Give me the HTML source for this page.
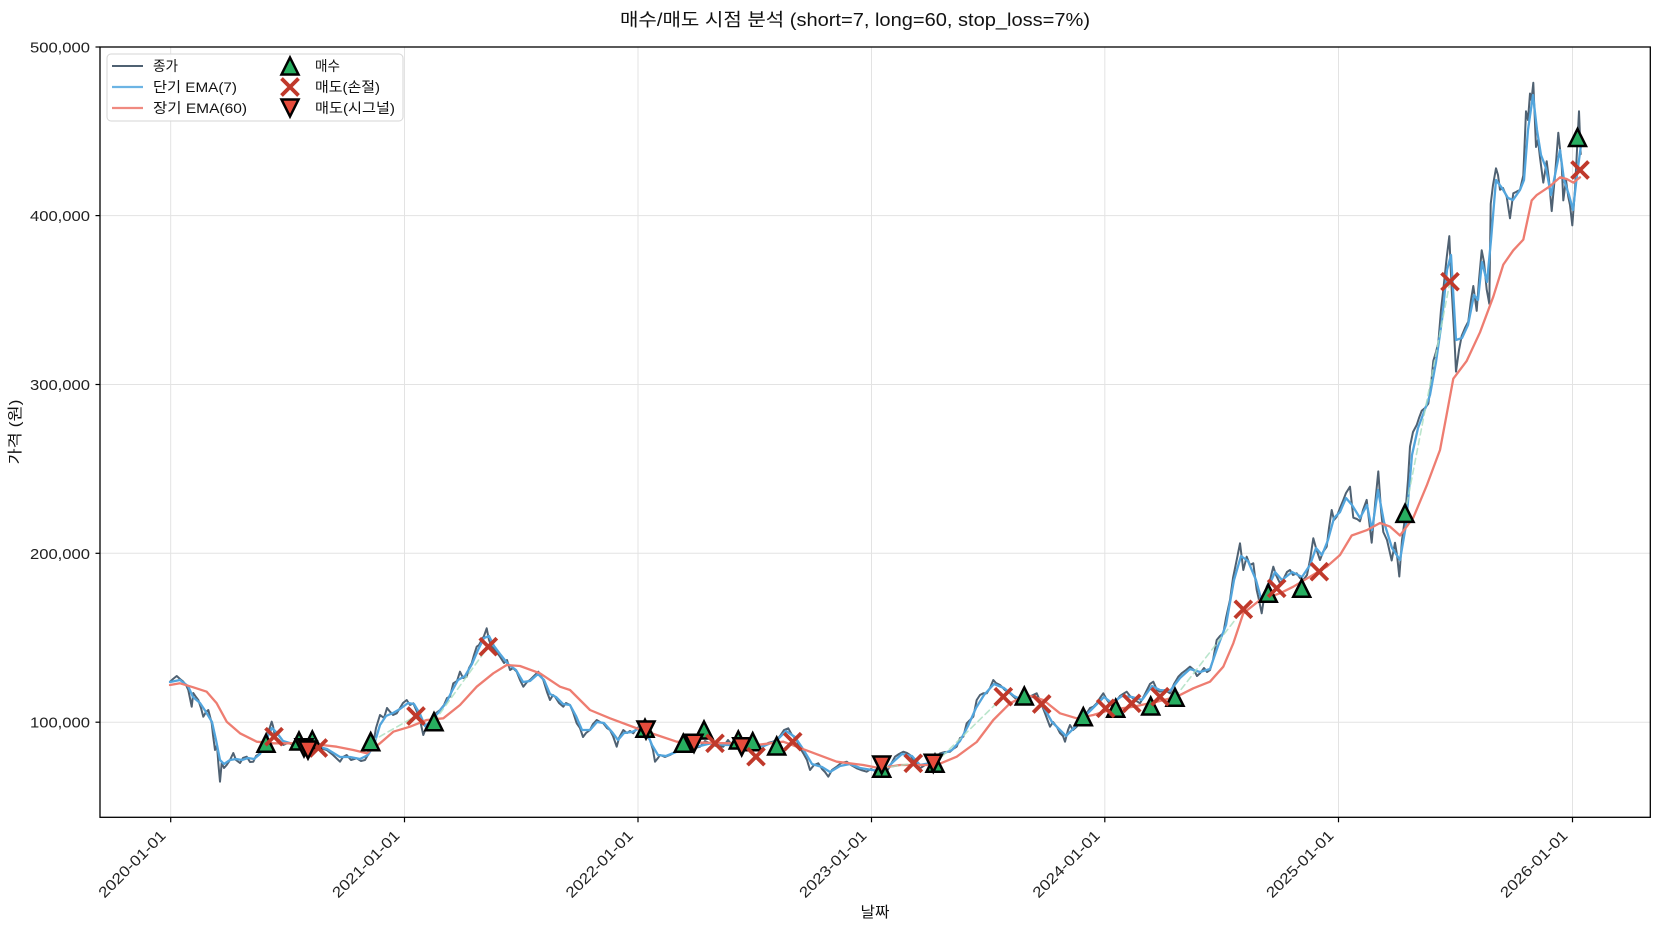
<!DOCTYPE html>
<html><head><meta charset="utf-8"><style>
html,body{margin:0;padding:0;background:#fff;}
svg{display:block;font-family:"Liberation Sans","Noto Sans CJK KR",sans-serif;}
</style></head><body>
<svg width="1660" height="930" viewBox="0 0 1660 930" xmlns="http://www.w3.org/2000/svg">
<defs>
<clipPath id="pc"><rect x="100" y="47" width="1550.3" height="770.3"/></clipPath>
<g id="up"><path d="M0,-8.5 L8.5,8.5 L-8.5,8.5 Z" fill="#27ae60" stroke="#000" stroke-width="2.5" stroke-linejoin="miter"/></g>
<g id="dn"><path d="M0,8.5 L8.5,-8.5 L-8.5,-8.5 Z" fill="#e74c3c" stroke="#000" stroke-width="2.5" stroke-linejoin="miter"/></g>
<g id="xx"><path d="M-8.5,-8.5 L8.5,8.5 M-8.5,8.5 L8.5,-8.5" stroke="#c0392b" stroke-width="3.8" fill="none"/></g>
</defs>
<rect width="1660" height="930" fill="#fff"/>
<!-- title -->
<text x="855" y="26" font-size="18" text-anchor="middle" textLength="470" lengthAdjust="spacingAndGlyphs" fill="#111">매수/매도 시점 분석 (short=7, long=60, stop_loss=7%)</text>
<!-- grid -->
<g stroke="#e3e3e3" stroke-width="1">
<line x1="170.7" y1="47" x2="170.7" y2="817"/>
<line x1="404.5" y1="47" x2="404.5" y2="817"/>
<line x1="638" y1="47" x2="638" y2="817"/>
<line x1="871.5" y1="47" x2="871.5" y2="817"/>
<line x1="1104.8" y1="47" x2="1104.8" y2="817"/>
<line x1="1338.5" y1="47" x2="1338.5" y2="817"/>
<line x1="1572.5" y1="47" x2="1572.5" y2="817"/>
<line x1="100" y1="215.6" x2="1650" y2="215.6"/>
<line x1="100" y1="384.5" x2="1650" y2="384.5"/>
<line x1="100" y1="553.3" x2="1650" y2="553.3"/>
<line x1="100" y1="722.2" x2="1650" y2="722.2"/>
</g>
<g clip-path="url(#pc)" fill="none" stroke-linejoin="round" stroke-linecap="round">
<!-- close -->
<polyline stroke="#4f6172" stroke-width="2" points="170,681.7 173,679 176.7,676 180,679 183.3,681.7 186,685 188.3,690 191.7,706.7 193.3,693 196,697 198.3,700 201,708 203.3,716.7 206,712 208.3,710 211.7,723 213,735 215,750 217,745 218.3,763 220,781.7 221.7,763 224,768 226.7,765 230,760 233.3,753 236,760 240,763 243,758 246.7,756.7 250,762 253.3,761.7 256,756 260,753.3 263,748 266.7,733.3 269,730 271.7,721.7 273,726 275,736.7 279,740 283.3,745 288,743 293.3,745 298,744 303.3,745 308,747 313.3,746.7 320,748 326.7,750 333,755 340,761.7 343,757 346.7,755 351,760 356.7,758.3 361,761 365,760 369,753 373.3,743.3 376,728 380,715 384,718 387,708 390,711.7 393,715 396.7,713.3 400,708 403,703 406.7,700 410,705 413.3,703.3 417,712 420,720 423.3,735 426,728 430,721.7 433,716 436,713 440,710 444,705 447,698 450,696.7 453.3,683.3 457,681 460,671.7 463,678 466.7,676.7 469,668 471.7,663.3 474,655 476.7,646.7 479,645 481.7,640 484,636 486.7,628.3 489,640 491.7,646.7 495,650 500,656.7 504,663 507,660 510,670 513,668 516.7,671.7 520,680 523.3,686.7 527,682 530,680 534,676 538.3,671.7 541,676 543.3,680 547,692 550,700 553,695 555,696.7 559,703 563.3,706.7 566,703 570,705 573,712 576.7,723.3 580,728 583,737 586,733 590,730 593,724 596.7,720 600,722 603.3,723.3 607,728 610,730 613,736 616.7,746.7 619,738 623.3,730 627,733 630,731 633.3,733.3 637,728 640,726.7 643,730 646,735 650,740 653,750 655,761.7 658,758 660,755 665,757 670,755 675,752 680,746.7 685,748 690,745 695,748 700,746.7 705,741 710,743.3 716,746 723.3,746.7 728,740 732,745 736.7,743.3 741,748 745,744 750,746.7 755,750 758,745 763.3,746.7 768,743 772,742 776.7,740 780,736 784,730 788.3,728.3 792,735 796.7,740 800,748 803.3,753.3 807,760 810,770 814,765 818.3,763.3 822,769 825,772 828.3,776.7 832,770 836.7,766.7 841,763 846.7,761.7 851,765 856.7,768.3 861,770 866.7,771.7 871,769 876.7,771.7 881,773 886.7,771.7 891,764 895,756.7 899,754 903.3,751.7 907,753 910,755 915,762 920,768.3 925,765 930,763.3 935,758 940,753.3 945,752 950,751.7 953,749 956.7,746.7 960,738 963.3,736.7 966.7,723.3 970,720 973.3,716.7 976.7,700 980,695 983.3,693.3 986.7,693.3 990,688 993.3,680 996,683 1000,685 1005,690 1010,693.3 1015,698 1020,703.3 1023,700 1026.7,700 1031,696 1036.7,693.3 1041,703 1045,713.3 1050,726.7 1053,722 1056.7,726.7 1060,733 1063,736 1065,741.7 1068,730 1070,725 1073,730 1076.7,726.7 1080,722 1083,718 1086.7,713.3 1090,708 1093.3,706.7 1097,703 1100,698 1103.3,693.3 1107,700 1110,704 1113.3,706.7 1117,700 1120,696 1123,694 1126.7,691.7 1130,696 1135,700 1140,703.3 1144,696 1147,690 1150,684 1153.3,681.7 1157,690 1160,691.7 1165,690 1170,693.3 1174,684 1178.3,676.7 1182,673 1186,670 1190,666.7 1194,670 1197,676 1200,673.3 1204,668 1207,672 1210,670 1213,660 1216.7,640 1220,636 1223.3,633.3 1226,618 1230,600 1233,578 1236.7,560 1240,543.3 1243.3,570 1246.7,556.7 1250,565 1253.3,563.3 1256.7,590 1259,600 1261.7,613.3 1264,598 1266.7,586.7 1270,580 1273.3,566.7 1276,575 1280,583.3 1284,578 1287,572 1290,570 1293,575 1296.7,573.3 1300,578 1303.3,580 1307,575 1310,560 1313.3,538.3 1316,548 1320,560 1323,552 1326.7,546.7 1329,528 1331.7,510 1334,520 1336.7,516.7 1340,508 1343.3,500 1346,493 1350,486.7 1353.3,517.7 1357,519 1360,521.3 1363,510 1366.7,499.9 1369,520 1371.7,542.7 1375,505 1378.3,471.4 1381,510 1383.3,532 1387,540 1391.7,560.5 1395,542.7 1397,555 1399.3,576.5 1402,540 1405,517.7 1408,480 1410,446.4 1413,432 1416.7,425 1419,418 1421.7,410.8 1425,408 1428.3,403.6 1431,385 1433.3,360.9 1436,352 1438.3,343 1441,310 1443.3,289.6 1446.7,257.5 1449.3,236.1 1451.7,289.6 1454,330 1456,371.6 1459,350 1461.7,335.9 1465,328 1468.3,321.6 1471,300 1473.3,286 1476.7,310.9 1479,280 1481.7,250.3 1484,262 1486.7,289.6 1489.3,303.8 1490.7,204 1493,185 1496,168.3 1498,175 1500,189.7 1503,188 1506.7,196.9 1510,218.3 1513.3,193.3 1516,192 1520,189.7 1523.3,175.5 1526,111.3 1528,120 1530,93.5 1531.5,100 1533.3,82.8 1536,147 1538,140 1540,157.6 1543.3,182.6 1546.7,161.2 1549,180 1551.7,211.1 1555,175.5 1558.3,132.7 1561.7,164.8 1563.3,200.4 1566,180 1568.3,196.9 1570,205 1572.3,225.4 1575,189.7 1577,150 1579,111.3 1580.7,154.1"/>
<!-- short EMA -->
<polyline stroke="#52a5dd" stroke-width="2.3" points="170,682 180,680 188,686 193,697 200,703 206,712 212,722 216,740 220,760 224,764 230,760 236,759 242,760 248,758 254,759 260,754 266,740 272,728 277,733 283,741 293,744 305,745 315,746 327,749 340,757 350,757 360,759 368,755 374,745 380,725 386,716 393,713 400,709 408,703 414,704 420,714 425,726 430,722 438,713 446,703 452,691 458,680 465,676 472,664 478,650 484,638 489,636 494,646 500,654 508,664 516,670 523,682 530,681 538,674 544,680 550,694 556,697 563,704 570,705 576,716 582,730 590,730 597,722 604,723 612,732 618,740 624,733 632,732 640,728 647,733 652,745 658,755 666,756 676,752 686,748 700,746 712,743 725,745 740,745 752,746 764,746 776,741 786,731 795,737 803,749 812,764 822,767 830,772 840,766 850,764 860,768 872,770 884,771 893,762 902,754 912,756 920,765 930,763 940,755 952,750 960,741 968,726 976,708 984,695 994,684 1004,688 1014,696 1024,701 1034,696 1044,708 1052,722 1060,730 1066,736 1074,728 1084,717 1094,707 1104,697 1112,703 1122,696 1132,697 1142,700 1152,686 1160,690 1170,691 1180,678 1190,669 1200,672 1210,669 1218,646 1226,625 1234,580 1241,556 1248,561 1256,580 1262,602 1268,588 1275,572 1282,580 1292,572 1302,577 1310,565 1316,548 1322,555 1328,540 1334,518 1340,512 1346,498 1352,505 1360,518 1367,505 1372,530 1378,490 1384,522 1392,548 1400,560 1406,525 1412,455 1418,428 1424,412 1430,395 1436,362 1442,320 1447,270 1451,255 1456,340 1462,338 1468,325 1474,295 1478,300 1482,262 1487,282 1491,240 1496,180 1502,188 1508,198 1513,200 1520,190 1524,180 1528,130 1533,95 1537,130 1541,155 1546,168 1551,195 1556,170 1560,150 1564,180 1569,195 1573,210 1577,175 1581,145"/>
<!-- long EMA -->
<polyline stroke="#ee7d71" stroke-width="2.3" points="170,685 180,683.3 193.3,687.3 206.7,691.7 216.7,703.3 226.7,721.7 240,733.3 256.7,741.7 273.3,743.3 293.3,743.3 313.3,744 336.7,746.7 353.3,750 366.7,753.3 380,743.3 393.3,731.7 410,726.7 426.7,720 443.3,718.3 460,705 476.7,686.7 493.3,673.3 506.7,665 520,666 540,673.3 560,686.7 570,690 590,710 610,718.3 636.7,728.3 656.7,735 676.7,741.7 703.3,742.7 730,743.3 756.7,745 783.3,741.7 810,751.7 836.7,761.7 863.3,765 880,768.3 900,765 920,765 936.7,765 956.7,756.7 976.7,742 993.3,720 1010,703.3 1026.7,695 1043.3,700 1060,713.3 1076.7,718.3 1093.3,715 1110,710 1133.3,706.7 1156.7,701.7 1176.7,696.7 1193.3,688.3 1210,681.7 1223.3,666.7 1233.3,643.3 1243.3,613.3 1260,600 1280,593.3 1293.3,586.7 1310,576.7 1326.7,566.7 1340,555 1351.7,535.5 1366.7,530.2 1380,523 1390,526.6 1400,535.5 1413.3,517.7 1426.7,485.6 1440,450 1446.7,414.3 1453.3,378.7 1466.7,360.9 1480,332.3 1493.3,296.7 1503.3,264.6 1513.3,250.3 1523.3,239.6 1531.7,200.4 1536.7,195.1 1550,186.2 1560,177.3 1566.7,179 1573.3,182.6 1580,177.3"/>
<!-- holding dashed lines -->
<g stroke="#a9dfbf" stroke-width="1.6" stroke-dasharray="6,4" opacity="0.8">
<line x1="370.7" y1="741.7" x2="416" y2="716"/>
<line x1="434" y1="721.7" x2="488.3" y2="646.7"/>
<line x1="881.7" y1="768.3" x2="913.3" y2="763.3"/>
<line x1="935" y1="763.3" x2="1003.3" y2="696.7"/>
<line x1="1175" y1="697.3" x2="1243.3" y2="609.3"/>
<line x1="1405" y1="513.4" x2="1450" y2="281.7"/>
</g>
</g>
<!-- markers: buys -->
<use href="#up" x="266" y="743.3"/>
<use href="#up" x="299" y="741"/>
<use href="#up" x="312.3" y="740"/>
<use href="#up" x="370.7" y="741.7"/>
<use href="#up" x="434" y="721.7"/>
<use href="#up" x="645" y="728.3"/>
<use href="#up" x="683.3" y="743.3"/>
<use href="#up" x="704" y="730"/>
<use href="#up" x="738.3" y="740"/>
<use href="#up" x="752.7" y="741.7"/>
<use href="#up" x="776.7" y="746"/>
<use href="#up" x="881.7" y="768.3"/>
<use href="#up" x="935" y="763.3"/>
<use href="#up" x="1024.3" y="696"/>
<use href="#up" x="1083.3" y="716.7"/>
<use href="#up" x="1115.7" y="708.3"/>
<use href="#up" x="1150.7" y="706"/>
<use href="#up" x="1175" y="697.3"/>
<use href="#up" x="1268.3" y="593.3"/>
<use href="#up" x="1301.7" y="588.3"/>
<use href="#up" x="1405" y="513.4"/>
<use href="#up" x="1577.5" y="137.5"/>
<!-- stop-loss -->
<use href="#xx" x="274" y="736.7"/>
<use href="#xx" x="318.3" y="748"/>
<use href="#xx" x="416" y="716"/>
<use href="#xx" x="488.3" y="646.7"/>
<use href="#xx" x="715" y="743.3"/>
<use href="#xx" x="756" y="756.7"/>
<use href="#xx" x="792.7" y="741.7"/>
<use href="#xx" x="913.3" y="763.3"/>
<use href="#xx" x="1003.3" y="696.7"/>
<use href="#xx" x="1041.7" y="704"/>
<use href="#xx" x="1105.7" y="708.3"/>
<use href="#xx" x="1131.7" y="703.3"/>
<use href="#xx" x="1160" y="696.7"/>
<use href="#xx" x="1243.3" y="609.3"/>
<use href="#xx" x="1276.7" y="588.3"/>
<use href="#xx" x="1319.3" y="571.7"/>
<use href="#xx" x="1450" y="281.7"/>
<use href="#xx" x="1580" y="170"/>
<!-- signal sells -->
<use href="#dn" x="304" y="747.7"/>
<use href="#dn" x="308" y="750"/>
<use href="#dn" x="646" y="730"/>
<use href="#dn" x="694" y="743.3"/>
<use href="#dn" x="741.7" y="746.7"/>
<use href="#dn" x="881.7" y="765"/>
<use href="#dn" x="933.3" y="763.3"/>
<!-- spines -->
<rect x="100" y="47" width="1550.3" height="770.3" fill="none" stroke="#000" stroke-width="1.3"/>
<!-- y ticks -->
<g stroke="#000" stroke-width="1.2">
<line x1="95.5" y1="47" x2="100" y2="47"/>
<line x1="95.5" y1="215.6" x2="100" y2="215.6"/>
<line x1="95.5" y1="384.5" x2="100" y2="384.5"/>
<line x1="95.5" y1="553.3" x2="100" y2="553.3"/>
<line x1="95.5" y1="722.2" x2="100" y2="722.2"/>
<line x1="170.7" y1="817.3" x2="170.7" y2="822.3"/>
<line x1="404.5" y1="817.3" x2="404.5" y2="822.3"/>
<line x1="638" y1="817.3" x2="638" y2="822.3"/>
<line x1="871.5" y1="817.3" x2="871.5" y2="822.3"/>
<line x1="1104.8" y1="817.3" x2="1104.8" y2="822.3"/>
<line x1="1338.5" y1="817.3" x2="1338.5" y2="822.3"/>
<line x1="1572.5" y1="817.3" x2="1572.5" y2="822.3"/>
</g>
<g font-size="15" fill="#222" text-anchor="end">
<text x="90" y="52.5" textLength="60" lengthAdjust="spacingAndGlyphs">500,000</text>
<text x="90" y="221" textLength="60" lengthAdjust="spacingAndGlyphs">400,000</text>
<text x="90" y="390" textLength="60" lengthAdjust="spacingAndGlyphs">300,000</text>
<text x="90" y="558.8" textLength="60" lengthAdjust="spacingAndGlyphs">200,000</text>
<text x="90" y="727.7" textLength="60" lengthAdjust="spacingAndGlyphs">100,000</text>
</g>
<g font-size="15" fill="#222" text-anchor="end">
<text transform="translate(166.7,836.5) rotate(-45)" textLength="88" lengthAdjust="spacingAndGlyphs">2020-01-01</text>
<text transform="translate(400.5,836.5) rotate(-45)" textLength="88" lengthAdjust="spacingAndGlyphs">2021-01-01</text>
<text transform="translate(634,836.5) rotate(-45)" textLength="88" lengthAdjust="spacingAndGlyphs">2022-01-01</text>
<text transform="translate(867.5,836.5) rotate(-45)" textLength="88" lengthAdjust="spacingAndGlyphs">2023-01-01</text>
<text transform="translate(1100.8,836.5) rotate(-45)" textLength="88" lengthAdjust="spacingAndGlyphs">2024-01-01</text>
<text transform="translate(1334.5,836.5) rotate(-45)" textLength="88" lengthAdjust="spacingAndGlyphs">2025-01-01</text>
<text transform="translate(1568.5,836.5) rotate(-45)" textLength="88" lengthAdjust="spacingAndGlyphs">2026-01-01</text>
</g>
<!-- axis labels -->
<text x="875" y="917" font-size="15" text-anchor="middle" fill="#111" textLength="29" lengthAdjust="spacingAndGlyphs">날짜</text>
<text transform="translate(20,432) rotate(-90)" font-size="15" text-anchor="middle" fill="#111" textLength="65" lengthAdjust="spacingAndGlyphs">가격 (원)</text>
<!-- legend -->
<rect x="107" y="54" width="296" height="67" rx="4" ry="4" fill="#fff" fill-opacity="0.85" stroke="#d6d6d6" stroke-width="1"/>
<line x1="112" y1="66" x2="143" y2="66" stroke="#4f6172" stroke-width="2"/>
<line x1="112" y1="87" x2="143" y2="87" stroke="#6cb4e4" stroke-width="2.3"/>
<line x1="112" y1="108" x2="143" y2="108" stroke="#f08a80" stroke-width="2.3"/>
<use href="#up" x="290" y="66"/>
<use href="#xx" x="290" y="87"/>
<use href="#dn" x="290" y="108"/>
<g font-size="14" fill="#111">
<text x="153" y="71" textLength="25" lengthAdjust="spacingAndGlyphs">종가</text>
<text x="153" y="92" textLength="84" lengthAdjust="spacingAndGlyphs">단기 EMA(7)</text>
<text x="153" y="113" textLength="94" lengthAdjust="spacingAndGlyphs">장기 EMA(60)</text>
<text x="315" y="71" textLength="25" lengthAdjust="spacingAndGlyphs">매수</text>
<text x="315" y="92" textLength="65" lengthAdjust="spacingAndGlyphs">매도(손절)</text>
<text x="315" y="113" textLength="80" lengthAdjust="spacingAndGlyphs">매도(시그널)</text>
</g>
</svg>
</body></html>
